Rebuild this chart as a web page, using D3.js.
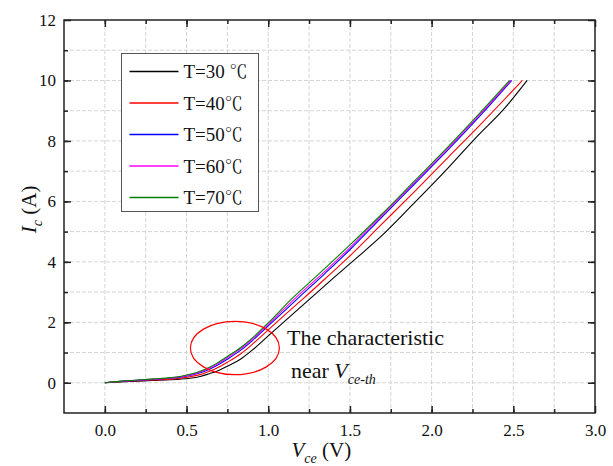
<!DOCTYPE html>
<meta charset="utf-8">
<style>
body {
  margin: 0;
  background: #fff;
}
svg text {
  font-family: "Liberation Serif", "DejaVu Serif", serif;
  fill: #111;
}
.grid line {
  stroke: #d4d4d4;
  stroke-width: 1;
  stroke-dasharray: 4,2;
}
.axis path {
  display: none;
}
.axis line {
  stroke: #222;
  stroke-width: 1.5;
}
.frame {
  fill: none;
  stroke: #222;
  stroke-width: 1.5;
}
.curve {
  fill: none;
  stroke-width: 1.1;
}
</style>
<body>
<script src="https://cdn.jsdelivr.net/npm/d3@7"></script>
<script>

var width = 613,
    height = 466;

var margin = {top: 20, right: 18, bottom: 53, left: 64},
    w = width - margin.left - margin.right,
    h = height - margin.top - margin.bottom;

var serif = "'Liberation Serif', 'DejaVu Serif', serif";

// Vce (V) / Ic (A) for each temperature
var v30 = [0, 0.1, 0.2, 0.3, 0.4, 0.46, 0.52, 0.584, 0.64, 0.686, 0.75, 0.83, 0.9, 1.0, 1.1, 1.25, 1.4, 1.55, 1.69, 1.885, 2.1, 2.27, 2.45, 2.585];
var i30 = [0, 0.03, 0.05, 0.075, 0.1, 0.12, 0.15, 0.21, 0.3, 0.38, 0.55, 0.78, 1.07, 1.55, 2.03, 2.75, 3.47, 4.17, 4.84, 5.9, 7.1, 8.1, 9.1, 10];

var v40 = [0, 0.1, 0.2, 0.3, 0.4, 0.46, 0.52, 0.584, 0.64, 0.686, 0.75, 0.83, 0.9, 1.0, 1.1, 1.209, 1.35, 1.5, 1.69, 1.9, 2.1, 2.3, 2.555];
var i40 = [0, 0.04, 0.065, 0.09, 0.12, 0.15, 0.2, 0.27, 0.38, 0.49, 0.68, 0.95, 1.26, 1.75, 2.24, 2.76, 3.45, 4.2, 5.22, 6.35, 7.45, 8.55, 10];

var v50 = [0, 0.1, 0.2, 0.3, 0.4, 0.46, 0.52, 0.584, 0.64, 0.686, 0.75, 0.83, 0.9, 1.0, 1.175, 1.35, 1.5, 1.69, 1.9, 2.1, 2.3, 2.49];
var i50 = [0, 0.05, 0.08, 0.11, 0.15, 0.18, 0.24, 0.33, 0.45, 0.57, 0.78, 1.07, 1.38, 1.88, 2.76, 3.63, 4.4, 5.45, 6.6, 7.7, 8.85, 10];

var v60 = [0, 0.1, 0.2, 0.3, 0.4, 0.46, 0.52, 0.584, 0.64, 0.686, 0.75, 0.83, 0.9, 1.0, 1.158, 1.35, 1.5, 1.69, 1.9, 2.1, 2.3, 2.485];
var i60 = [0, 0.05, 0.085, 0.12, 0.16, 0.2, 0.26, 0.36, 0.48, 0.61, 0.83, 1.12, 1.43, 1.93, 2.76, 3.7, 4.47, 5.5, 6.65, 7.75, 8.9, 10];

var v70 = [0, 0.1, 0.2, 0.3, 0.4, 0.46, 0.52, 0.584, 0.64, 0.686, 0.75, 0.83, 0.9, 1.0, 1.14, 1.3, 1.5, 1.69, 1.9, 2.1, 2.3, 2.477];
var i70 = [0, 0.055, 0.09, 0.13, 0.17, 0.21, 0.28, 0.38, 0.51, 0.65, 0.87, 1.16, 1.47, 1.98, 2.76, 3.55, 4.56, 5.55, 6.7, 7.8, 8.95, 10];

var labels = ["T=30 ", "T=40", "T=50", "T=60", "T=70"];
var colors = ["#000000", "#ff0000", "#0000ff", "#ff00ff", "#008000"];

var xTicks = [0, 0.5, 1.0, 1.5, 2.0, 2.5, 3.0];
var yTicks = [0, 2, 4, 6, 8, 10, 12];

// annotation ellipse (centre in data units)
var ringV = 0.796, ringI = 1.15;

var series = [[v30, i30], [v40, i40], [v50, i50], [v60, i60], [v70, i70]].map(function(s, k) {
  return {
    label: labels[k],
    color: colors[k],
    values: s[0].map(function(v, j) { return {v: v, i: s[1][j]}; })
  };
});

var x = d3.scaleLinear().domain([-0.25, 3]).range([0, w]);
var y = d3.scaleLinear().domain([-1, 12]).range([h, 0]);

var svg = d3.select("body").append("svg")
    .attr("width", width)
    .attr("height", height)
  .append("g")
    .attr("transform", "translate(" + margin.left + "," + margin.top + ")");

// grid
svg.append("g")
    .attr("class", "grid")
  .selectAll("line")
    .data(d3.range(0, 12).map(function(k) { return k * 0.25; }))
  .enter().append("line")
    .attr("x1", function(d) { return x(d); })
    .attr("x2", function(d) { return x(d); })
    .attr("y1", 0)
    .attr("y2", h);

svg.append("g")
    .attr("class", "grid")
  .selectAll("line")
    .data(d3.range(0, 12))
  .enter().append("line")
    .attr("x1", 0)
    .attr("x2", w)
    .attr("y1", function(d) { return y(d); })
    .attr("y2", function(d) { return y(d); });

// axes with inward ticks on all four sides
var xMinor = d3.range(0, 12).map(function(k) { return k * 0.25; });
var yMinor = d3.range(0, 12);

function noText(g) { g.selectAll("text").remove(); }

svg.append("g").attr("class", "axis")
    .attr("transform", "translate(0," + h + ")")
    .call(d3.axisBottom(x).tickValues(xMinor).tickSizeInner(-4).tickSizeOuter(0))
    .call(noText);
svg.append("g").attr("class", "axis")
    .attr("transform", "translate(0," + h + ")")
    .call(d3.axisBottom(x).tickValues(xTicks).tickSizeInner(-7).tickSizeOuter(0).tickPadding(11).tickFormat(d3.format(".1f")))
    .selectAll("text").style("font-family", serif).style("font-size", "17px");
svg.append("g").attr("class", "axis")
    .call(d3.axisTop(x).tickValues(xMinor).tickSizeInner(-4).tickSizeOuter(0))
    .call(noText);
svg.append("g").attr("class", "axis")
    .call(d3.axisTop(x).tickValues(xTicks).tickSizeInner(-7).tickSizeOuter(0))
    .call(noText);

svg.append("g").attr("class", "axis")
    .call(d3.axisLeft(y).tickValues(yMinor).tickSizeInner(-4).tickSizeOuter(0))
    .call(noText);
svg.append("g").attr("class", "axis")
    .call(d3.axisLeft(y).tickValues(yTicks).tickSizeInner(-7).tickSizeOuter(0).tickPadding(8).tickFormat(d3.format("d")))
    .selectAll("text").style("font-family", serif).style("font-size", "17px");
svg.append("g").attr("class", "axis")
    .attr("transform", "translate(" + w + ",0)")
    .call(d3.axisRight(y).tickValues(yMinor).tickSizeInner(-4).tickSizeOuter(0))
    .call(noText);
svg.append("g").attr("class", "axis")
    .attr("transform", "translate(" + w + ",0)")
    .call(d3.axisRight(y).tickValues(yTicks).tickSizeInner(-7).tickSizeOuter(0))
    .call(noText);

svg.append("rect")
    .attr("class", "frame")
    .attr("width", w)
    .attr("height", h);

// curves
var line = d3.line()
    .curve(d3.curveMonotoneX)
    .x(function(d) { return x(d.v); })
    .y(function(d) { return y(d.i); });

svg.selectAll(".curve")
    .data(series)
  .enter().append("path")
    .attr("class", "curve")
    .attr("stroke", function(d) { return d.color; })
    .attr("d", function(d) { return line(d.values); });

// annotation
svg.append("ellipse")
    .attr("cx", x(ringV))
    .attr("cy", y(ringI))
    .attr("rx", 44.5)
    .attr("ry", 26.7)
    .attr("fill", "none")
    .attr("stroke", "#ff0000")
    .attr("stroke-width", 1.2);

svg.append("text")
    .attr("x", 223)
    .attr("y", 325)
    .style("font-family", serif)
    .style("font-size", "22px")
    .text("The characteristic");

var near = svg.append("text")
    .attr("x", 227)
    .attr("y", 358)
    .style("font-family", serif)
    .style("font-size", "22px");
near.append("tspan").text("near ");
near.append("tspan").style("font-style", "italic").text("V");
near.append("tspan").attr("dy", 6).style("font-style", "italic").style("font-size", "14px").text("ce-th");

// legend
var legend = svg.append("g")
    .attr("transform", "translate(" + (121.5 - margin.left) + "," + (53.5 - margin.top) + ")");

legend.append("rect")
    .attr("width", 137)
    .attr("height", 158)
    .attr("fill", "#fff")
    .attr("stroke", "#555")
    .attr("stroke-width", 1);

var entry = legend.selectAll(".entry")
    .data(series)
  .enter().append("g")
    .attr("class", "entry")
    .attr("transform", function(d, k) { return "translate(0," + (18 + k * 31.5) + ")"; });

entry.append("line")
    .attr("x1", 8)
    .attr("x2", 57)
    .style("stroke", function(d) { return d.color; })
    .style("stroke-width", 1.3);

var lt = entry.append("text")
    .attr("x", 62)
    .attr("dy", "0.35em")
    .style("font-family", serif)
    .style("font-size", "19px");
lt.append("tspan").text(function(d) { return d.label; });
lt.append("tspan")
    .style("font-family", "'Noto Serif CJK SC', 'Noto Sans CJK SC', serif")
    .style("font-size", "18px")
    .text("\u2103");

// axis titles
var yt = svg.append("text")
    .attr("transform", "translate(" + (36 - margin.left) + "," + (y(6) + 8) + ") rotate(-90)")
    .attr("text-anchor", "middle")
    .style("font-family", serif)
    .style("font-size", "21px");
yt.append("tspan").style("font-style", "italic").text("I");
yt.append("tspan").attr("dy", 6).style("font-size", "14px").style("font-style", "italic").text("c");
yt.append("tspan").attr("dy", -6).text(" (A)");

var xt = svg.append("text")
    .attr("x", x(1.325))
    .attr("y", h + 44)
    .attr("text-anchor", "middle")
    .style("font-family", serif)
    .style("font-size", "21px");
xt.append("tspan").style("font-style", "italic").text("V");
xt.append("tspan").attr("dy", 6).style("font-size", "14px").style("font-style", "italic").text("ce");
xt.append("tspan").attr("dy", -6).text(" (V)");

</script>
